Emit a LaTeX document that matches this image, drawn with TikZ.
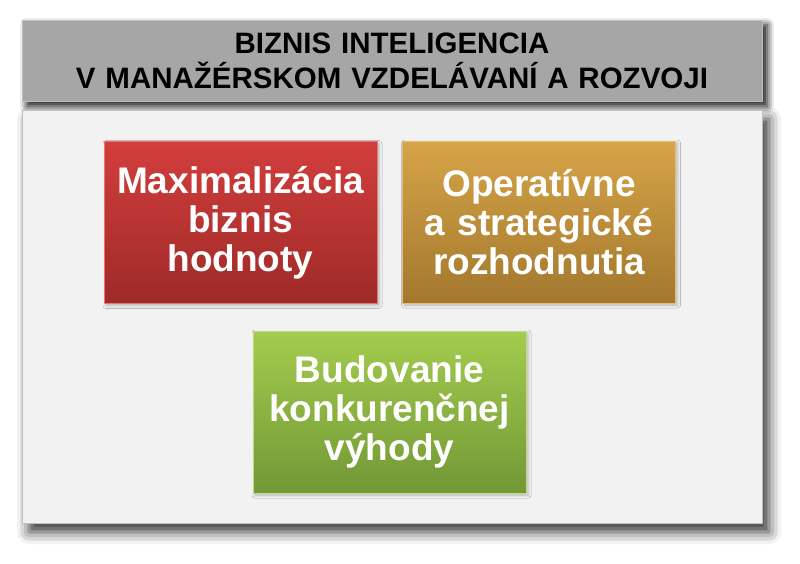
\documentclass[tikz,border=0pt]{standalone}
\usepackage{fontspec}
\setmainfont{Liberation Sans}
\usepackage{tikz}
\usetikzlibrary{shadows.blur}

\definecolor{headgray}{RGB}{166,166,166}
\definecolor{panelgray}{RGB}{242,242,242}
\definecolor{redtop}{RGB}{210,62,60}
\definecolor{redbot}{RGB}{158,42,40}
\definecolor{goldtop}{RGB}{214,164,72}
\definecolor{goldbot}{RGB}{163,120,46}
\definecolor{greentop}{RGB}{164,204,78}
\definecolor{greenbot}{RGB}{114,152,54}

\begin{document}
\begin{tikzpicture}[x=1pt, y=-1pt,
        panel/.style={rectangle, inner sep=0pt, draw=black!25, line width=0.8pt,
            blur shadow={shadow xshift=7pt, shadow yshift=-9pt, shadow blur radius=12pt, shadow opacity=80}},
        goal/.style={rectangle, inner sep=0pt, minimum width=273pt, minimum height=162pt,
            text width=268pt, align=center, text=white, line width=0.8pt,
            font=\bfseries\fontsize{37}{39}\selectfont,
            blur shadow={shadow xshift=2pt, shadow yshift=-2pt, shadow blur radius=3pt, shadow opacity=25}}]
            \useasboundingbox (0,0) rectangle (800,563);

            \node[panel, fill=headgray, minimum width=740pt, minimum height=81pt,
                text width=730pt, align=center,
                blur shadow={shadow xshift=5pt, shadow yshift=-5pt, shadow blur radius=7pt, shadow opacity=60},
                font=\bfseries\fontsize{29.5}{35}\selectfont] (title) at (392,60.5)
                {BIZNIS INTELIGENCIA\\V MANAŽÉRSKOM VZDELÁVANÍ A ROZVOJI};
            \node[panel, fill=panelgray, minimum width=740pt, minimum height=413pt] (panel) at (392,316.5) {};

            \node[goal, top color=redtop, bottom color=redbot, draw=redtop!70!white] (value) at (240.5,222.5)
                {Maximalizácia\\biznis\\hodnoty};
            \node[goal, top color=goldtop, bottom color=goldbot, draw=goldtop!70!white] (decision) at (539,222)
                {Operatívne\\a strategické\\rozhodnutia};
            \node[goal, top color=greentop, bottom color=greenbot, draw=greentop!70!white] (advantage) at (389.5,412)
                {Budovanie\\konkurenčnej\\výhody};
        \end{tikzpicture}
\end{document}
